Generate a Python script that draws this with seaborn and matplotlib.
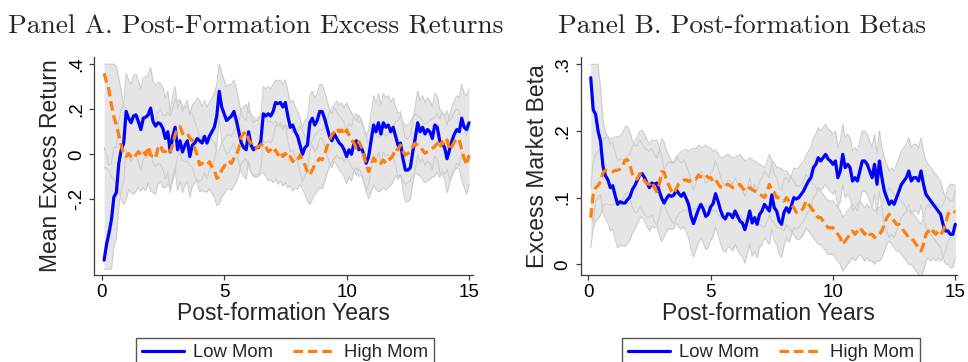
import numpy as np
import pandas as pd
import matplotlib
matplotlib.use("Agg")
import matplotlib.pyplot as plt
import seaborn as sns

# ---------------- data ----------------
years = np.round(np.arange(1, 151) * 0.1, 1)

low_ret = [
    -0.47, -0.40, -0.35, -0.29, -0.19, -0.17, -0.04, 0.02, 0.05, 0.19,
    0.16, 0.14, 0.17, 0.175, 0.145, 0.11, 0.16, 0.165, 0.175, 0.205,
    0.145, 0.125, 0.14, 0.135, 0.115, 0.07, 0.10, 0.01, 0.08, 0.12,
    0.02, 0.06, 0.01, 0.04, 0.06, -0.01, 0.04, 0.05, 0.07, 0.06,
    0.05, 0.08, 0.05, 0.08, 0.10, 0.12, 0.17, 0.28, 0.21, 0.18,
    0.15, 0.16, 0.17, 0.19, 0.15, 0.10, 0.05, 0.03, 0.02, 0.10,
    0.04, 0.02, 0.03, 0.03, 0.06, 0.18, 0.17, 0.18, 0.17, 0.19,
    0.23, 0.225, 0.23, 0.21, 0.23, 0.17, 0.12, 0.13, 0.10, 0.08,
    0.04, 0.00, 0.03, 0.04, 0.14, 0.16, 0.13, 0.15, 0.19, 0.19,
    0.16, 0.12, 0.08, 0.06, 0.09, 0.07, 0.05, 0.04, 0.02, -0.01,
    0.02, 0.00, 0.05, 0.06, 0.02, 0.03, 0.00, -0.04, -0.01, 0.06,
    0.13, 0.10, 0.14, 0.09, 0.14, 0.12, 0.13, 0.10, 0.12, 0.08,
    0.04, 0.05, -0.02, -0.07, -0.07, -0.06, 0.01, 0.07, 0.14, 0.10,
    0.12, 0.09, 0.11, 0.10, 0.07, 0.13, 0.12, 0.06, 0.05, 0.03,
    -0.02, 0.02, 0.06, 0.09, 0.11, 0.10, 0.16, 0.12, 0.11, 0.14,
]
high_ret = [
    0.36, 0.32, 0.285, 0.22, 0.167, 0.13, 0.086, 0.041, -0.003, -0.01,
    0.004, -0.01, -0.018, -0.003, 0.012, -0.003, 0.012, -0.003, 0.034, -0.003,
    -0.01, -0.018, 0.027, 0.041, 0.012, 0.012, 0.027, 0.012, 0.041, 0.086,
    0.115, 0.123, 0.093, 0.086, 0.093, 0.071, 0.063, 0.027, -0.003, -0.047,
    -0.04, -0.047, -0.047, -0.033, -0.055, -0.07, -0.107, -0.10, -0.07, -0.055,
    -0.033, -0.033, -0.04, -0.018, -0.003, 0.027, 0.078, 0.093, 0.10, 0.064,
    0.049, 0.034, 0.027, 0.034, 0.041, 0.049, 0.034, 0.012, 0.019, 0.004,
    0.019, -0.003, 0.012, -0.01, 0.004, -0.018, -0.01, -0.033, -0.018, -0.025,
    -0.003, -0.025, -0.047, -0.077, -0.092, -0.07, -0.047, -0.033, -0.018, -0.025,
    -0.003, 0.034, 0.064, 0.086, 0.10, 0.116, 0.10, 0.108, 0.086, 0.108,
    0.086, 0.064, 0.049, 0.027, 0.056, 0.034, -0.003, -0.047, -0.077, -0.047,
    -0.018, -0.033, -0.047, -0.04, -0.025, -0.04, -0.025, -0.018, -0.003, 0.027,
    0.019, 0.041, 0.012, -0.003, 0.004, 0.012, 0.034, 0.049, 0.041, 0.034,
    0.019, 0.004, 0.012, 0.019, 0.027, 0.034, 0.049, 0.027, 0.056, 0.041,
    0.064, 0.019, 0.034, 0.056, 0.071, 0.064, 0.019, -0.018, -0.047, -0.003,
]
low_ret_ci = [
    0.50, 0.40, 0.30, 0.25, 0.22, 0.20, 0.19, 0.18, 0.17, 0.17,
    0.17, 0.17, 0.18, 0.18, 0.18, 0.18, 0.18, 0.18, 0.18, 0.18,
    0.18, 0.18, 0.18, 0.18, 0.18, 0.18, 0.18, 0.18, 0.18, 0.18,
    0.18, 0.18, 0.18, 0.18, 0.18, 0.18, 0.18, 0.18, 0.18, 0.18,
    0.16, 0.16, 0.16, 0.15, 0.15, 0.15, 0.14, 0.12, 0.15, 0.15,
    0.15, 0.15, 0.14, 0.14, 0.14, 0.14, 0.13, 0.13, 0.13, 0.13,
    0.12, 0.12, 0.12, 0.12, 0.12, 0.12, 0.12, 0.12, 0.12, 0.12,
    0.10, 0.10, 0.10, 0.10, 0.10, 0.11, 0.11, 0.11, 0.11, 0.11,
    0.12, 0.12, 0.12, 0.12, 0.12, 0.12, 0.12, 0.12, 0.12, 0.12,
    0.12, 0.12, 0.12, 0.12, 0.12, 0.12, 0.12, 0.12, 0.12, 0.12,
    0.12, 0.12, 0.12, 0.12, 0.12, 0.12, 0.12, 0.12, 0.12, 0.12,
    0.13, 0.13, 0.13, 0.13, 0.13, 0.13, 0.13, 0.13, 0.13, 0.13,
    0.14, 0.14, 0.14, 0.14, 0.14, 0.14, 0.14, 0.14, 0.14, 0.14,
    0.14, 0.14, 0.14, 0.14, 0.14, 0.14, 0.14, 0.14, 0.14, 0.14,
    0.15, 0.15, 0.15, 0.15, 0.15, 0.15, 0.15, 0.15, 0.15, 0.15,
]
high_ret_ci = [
    0.42, 0.38, 0.36, 0.32, 0.28, 0.26, 0.25, 0.24, 0.22, 0.19,
    0.16, 0.16, 0.16, 0.16, 0.16, 0.16, 0.16, 0.16, 0.16, 0.16,
    0.16, 0.16, 0.16, 0.16, 0.16, 0.16, 0.16, 0.16, 0.16, 0.16,
    0.12, 0.12, 0.12, 0.12, 0.12, 0.12, 0.12, 0.12, 0.12, 0.12,
    0.12, 0.12, 0.12, 0.12, 0.12, 0.12, 0.12, 0.12, 0.12, 0.12,
    0.12, 0.12, 0.12, 0.12, 0.12, 0.12, 0.12, 0.12, 0.12, 0.12,
    0.13, 0.13, 0.13, 0.13, 0.13, 0.13, 0.13, 0.13, 0.13, 0.13,
    0.13, 0.13, 0.13, 0.13, 0.13, 0.13, 0.13, 0.13, 0.13, 0.13,
    0.13, 0.13, 0.13, 0.13, 0.13, 0.13, 0.13, 0.13, 0.13, 0.13,
    0.12, 0.12, 0.12, 0.12, 0.12, 0.12, 0.12, 0.12, 0.12, 0.12,
    0.12, 0.12, 0.12, 0.12, 0.12, 0.12, 0.12, 0.12, 0.12, 0.12,
    0.12, 0.12, 0.12, 0.12, 0.12, 0.12, 0.12, 0.12, 0.12, 0.12,
    0.13, 0.13, 0.13, 0.13, 0.13, 0.13, 0.13, 0.13, 0.13, 0.13,
    0.13, 0.13, 0.13, 0.13, 0.13, 0.13, 0.13, 0.13, 0.13, 0.13,
    0.13, 0.13, 0.13, 0.13, 0.13, 0.13, 0.13, 0.13, 0.13, 0.13,
]
ret_ci_floor, ret_ci_cap = -0.51, 0.40

low_beta = [
    0.28, 0.232, 0.225, 0.20, 0.185, 0.147, 0.133, 0.127, 0.115, 0.118,
    0.103, 0.09, 0.094, 0.092, 0.092, 0.097, 0.101, 0.112, 0.118, 0.126,
    0.134, 0.136, 0.13, 0.122, 0.115, 0.122, 0.12, 0.122, 0.11, 0.099,
    0.092, 0.099, 0.104, 0.102, 0.104, 0.112, 0.106, 0.102, 0.107, 0.099,
    0.09, 0.072, 0.061, 0.072, 0.082, 0.09, 0.083, 0.072, 0.075, 0.086,
    0.091, 0.106, 0.095, 0.082, 0.072, 0.068, 0.076, 0.075, 0.07, 0.08,
    0.072, 0.065, 0.062, 0.052, 0.065, 0.08, 0.062, 0.07, 0.06, 0.075,
    0.08, 0.09, 0.085, 0.08, 0.104, 0.085, 0.08, 0.065, 0.06, 0.078,
    0.085, 0.078, 0.088, 0.10, 0.098, 0.10, 0.105, 0.11, 0.118, 0.125,
    0.13, 0.145, 0.15, 0.16, 0.155, 0.16, 0.165, 0.158, 0.155, 0.15,
    0.155, 0.13, 0.14, 0.165, 0.145, 0.15, 0.145, 0.125, 0.13, 0.125,
    0.14, 0.155, 0.155, 0.15, 0.14, 0.13, 0.15, 0.12, 0.155, 0.13,
    0.11, 0.10, 0.09, 0.095, 0.09, 0.10, 0.11, 0.12, 0.125, 0.13,
    0.14, 0.125, 0.13, 0.13, 0.125, 0.14, 0.12, 0.105, 0.10, 0.095,
    0.09, 0.085, 0.08, 0.075, 0.06, 0.05, 0.05, 0.045, 0.045, 0.06,
]
high_beta = [
    0.07, 0.104, 0.115, 0.118, 0.124, 0.137, 0.141, 0.14, 0.139, 0.139,
    0.141, 0.141, 0.143, 0.147, 0.156, 0.157, 0.149, 0.136, 0.128, 0.128,
    0.136, 0.132, 0.125, 0.121, 0.12, 0.124, 0.115, 0.109, 0.12, 0.139,
    0.138, 0.126, 0.118, 0.11, 0.106, 0.114, 0.121, 0.124, 0.126, 0.127,
    0.124, 0.127, 0.129, 0.128, 0.134, 0.131, 0.131, 0.134, 0.13, 0.13,
    0.124, 0.127, 0.121, 0.116, 0.115, 0.118, 0.12, 0.118, 0.115, 0.115,
    0.118, 0.12, 0.115, 0.11, 0.112, 0.115, 0.112, 0.11, 0.108, 0.105,
    0.103, 0.10, 0.108, 0.12, 0.11, 0.108, 0.10, 0.10, 0.098, 0.095,
    0.10, 0.095, 0.09, 0.085, 0.078, 0.077, 0.08, 0.085, 0.095, 0.09,
    0.085, 0.08, 0.075, 0.07, 0.07, 0.065, 0.06, 0.055, 0.055, 0.055,
    0.05, 0.045, 0.04, 0.03, 0.035, 0.04, 0.045, 0.05, 0.045, 0.05,
    0.055, 0.05, 0.045, 0.05, 0.045, 0.045, 0.04, 0.045, 0.045, 0.05,
    0.06, 0.07, 0.075, 0.07, 0.065, 0.06, 0.06, 0.055, 0.05, 0.045,
    0.04, 0.04, 0.035, 0.03, 0.025, 0.02, 0.03, 0.045, 0.05, 0.045,
    0.05, 0.045, 0.05, 0.045, 0.05, 0.06, 0.075, 0.08, 0.08, 0.078,
]
low_beta_ci = [
    0.20, 0.17, 0.13, 0.10, 0.08, 0.07, 0.065, 0.065, 0.065, 0.065,
    0.065, 0.065, 0.065, 0.065, 0.065, 0.065, 0.065, 0.065, 0.065, 0.065,
    0.065, 0.065, 0.065, 0.065, 0.065, 0.065, 0.065, 0.065, 0.065, 0.065,
    0.05, 0.05, 0.05, 0.05, 0.05, 0.05, 0.05, 0.05, 0.05, 0.05,
    0.05, 0.05, 0.05, 0.05, 0.05, 0.05, 0.05, 0.05, 0.05, 0.05,
    0.05, 0.05, 0.05, 0.05, 0.05, 0.05, 0.05, 0.05, 0.05, 0.05,
    0.05, 0.05, 0.05, 0.05, 0.05, 0.05, 0.05, 0.05, 0.05, 0.05,
    0.05, 0.05, 0.05, 0.05, 0.05, 0.05, 0.05, 0.05, 0.05, 0.05,
    0.045, 0.045, 0.045, 0.045, 0.045, 0.045, 0.045, 0.045, 0.045, 0.045,
    0.045, 0.045, 0.045, 0.045, 0.045, 0.045, 0.045, 0.045, 0.045, 0.045,
    0.045, 0.045, 0.045, 0.045, 0.045, 0.045, 0.045, 0.045, 0.045, 0.045,
    0.045, 0.045, 0.045, 0.045, 0.045, 0.045, 0.045, 0.045, 0.045, 0.045,
    0.05, 0.05, 0.05, 0.05, 0.05, 0.05, 0.05, 0.05, 0.05, 0.05,
    0.05, 0.05, 0.05, 0.05, 0.05, 0.05, 0.05, 0.05, 0.05, 0.05,
    0.05, 0.05, 0.05, 0.05, 0.05, 0.05, 0.05, 0.05, 0.05, 0.05,
]
high_beta_ci = [
    0.045, 0.05, 0.05, 0.05, 0.05, 0.05, 0.05, 0.05, 0.05, 0.05,
    0.05, 0.05, 0.05, 0.05, 0.05, 0.05, 0.05, 0.05, 0.05, 0.05,
    0.05, 0.05, 0.05, 0.05, 0.05, 0.05, 0.05, 0.05, 0.05, 0.05,
    0.045, 0.045, 0.045, 0.045, 0.045, 0.045, 0.045, 0.045, 0.045, 0.045,
    0.045, 0.045, 0.045, 0.045, 0.045, 0.045, 0.045, 0.045, 0.045, 0.045,
    0.045, 0.045, 0.045, 0.045, 0.045, 0.045, 0.045, 0.045, 0.045, 0.045,
    0.045, 0.045, 0.045, 0.045, 0.045, 0.045, 0.045, 0.045, 0.045, 0.045,
    0.045, 0.045, 0.045, 0.045, 0.045, 0.045, 0.045, 0.045, 0.045, 0.045,
    0.04, 0.04, 0.04, 0.04, 0.04, 0.04, 0.04, 0.04, 0.04, 0.04,
    0.04, 0.04, 0.04, 0.04, 0.04, 0.04, 0.04, 0.04, 0.04, 0.04,
    0.04, 0.04, 0.04, 0.04, 0.04, 0.04, 0.04, 0.04, 0.04, 0.04,
    0.04, 0.04, 0.04, 0.04, 0.04, 0.04, 0.04, 0.04, 0.04, 0.04,
    0.04, 0.04, 0.04, 0.04, 0.04, 0.04, 0.04, 0.04, 0.04, 0.04,
    0.04, 0.04, 0.04, 0.04, 0.04, 0.04, 0.04, 0.04, 0.04, 0.04,
    0.04, 0.04, 0.04, 0.04, 0.04, 0.04, 0.04, 0.04, 0.04, 0.04,
]
beta_ci_floor, beta_ci_cap = -1.0, 0.30

series_labels = ["Low Mom", "High Mom"]
titles = ["Panel A. Post-Formation Excess Returns", "Panel B. Post-formation Betas"]
y_labels = ["Mean Excess Return", "Excess Market Beta"]
x_label = "Post-formation Years"
x_ticks = [0, 5, 10, 15]
ret_ticks = [-0.2, 0, 0.2, 0.4]
ret_tick_labels = ["-.2", "0", ".2", ".4"]
beta_ticks = [0, 0.1, 0.2, 0.3]
beta_tick_labels = ["0", ".1", ".2", ".3"]

# ---------------- style ----------------
sns.set_theme(style="ticks")
plt.rcParams["font.family"] = ["Liberation Sans", "DejaVu Sans"]

BLUE = "#0000ff"
ORANGE = "#ff7f0e"
FILL = "#e5e5e5"
EDGE = "#cdcdcd"
AXC = "#3c3c3c"
W, H = 968, 362

fig = plt.figure(figsize=(W / 100, H / 100), dpi=100)


def px_rect(x0, x1, ytop, ybot):
    return [x0 / W, 1 - ybot / H, (x1 - x0) / W, (ybot - ytop) / H]


axA = fig.add_axes(px_rect(94.3, 473, 57, 275))
axB = fig.add_axes(px_rect(580.7, 957, 57, 275))


def draw_panel(ax, low, high, low_ci, high_ci, floor, cap, xlim, ylim,
               yt, ytl, ylab):
    t = years
    low = np.asarray(low); high = np.asarray(high)
    bands = []
    for s, ci in ((low, np.asarray(low_ci)), (high, np.asarray(high_ci))):
        lo = np.clip(s - ci, floor, cap)
        hi = np.clip(s + ci, floor, cap)
        bands.append((lo, hi))
    for lo, hi in bands:
        ax.fill_between(t, lo, hi, color=FILL, lw=0, zorder=1)
    for lo, hi in bands:
        ax.plot(t, lo, color=EDGE, lw=0.8, zorder=1.5)
        ax.plot(t, hi, color=EDGE, lw=0.8, zorder=1.5)
    df_low = pd.DataFrame({"x": t, "y": low})
    df_high = pd.DataFrame({"x": t, "y": high})
    sns.lineplot(data=df_low, x="x", y="y", ax=ax, color=BLUE, lw=2.3,
                 zorder=3, label=series_labels[0], legend=False)
    sns.lineplot(data=df_high, x="x", y="y", ax=ax, color=ORANGE, lw=2.3,
                 zorder=4, label=series_labels[1], legend=False,
                 linestyle=(0, (3.0, 1.5)))
    ax.set_xlim(*xlim)
    ax.set_ylim(*ylim)
    ax.set_xticks(x_ticks)
    ax.set_xticklabels([str(v) for v in x_ticks])
    ax.set_yticks(yt)
    ax.set_yticklabels(ytl, rotation=90, va="center")
    for s in ("top", "right"):
        ax.spines[s].set_visible(False)
    for s in ("left", "bottom"):
        ax.spines[s].set_color(AXC)
        ax.spines[s].set_linewidth(0.9)
    ax.tick_params(axis="both", direction="out", length=3.8, width=0.9,
                   color=AXC, labelsize=13.5, labelcolor="black")
    ax.tick_params(axis="x", pad=2.5)
    ax.tick_params(axis="y", pad=3)
    ax.set_xlabel(x_label, fontsize=16.5, labelpad=1)
    ax.set_ylabel(ylab, fontsize=16.5, labelpad=4)
    ax.grid(False)
    ax.set_facecolor("white")


draw_panel(axA, low_ret, high_ret, low_ret_ci, high_ret_ci,
           ret_ci_floor, ret_ci_cap, (-0.30, 15.16), (-0.536, 0.432),
           ret_ticks, ret_tick_labels, y_labels[0])
draw_panel(axB, low_beta, high_beta, low_beta_ci, high_beta_ci,
           beta_ci_floor, beta_ci_cap, (-0.31, 15.07), (-0.016, 0.311),
           beta_ticks, beta_tick_labels, y_labels[1])

for ax, cx in ((axA, 285), (axB, 771)):
    lines = [l for l in ax.get_lines() if l.get_label() in series_labels]
    fig.legend(lines, [l.get_label() for l in lines], loc="upper center",
               bbox_to_anchor=(cx / W, 1 - 338 / H), bbox_transform=fig.transFigure,
               ncol=2, frameon=True, fancybox=False, edgecolor="#555555",
               framealpha=1, fontsize=13.3, handlelength=2.3, handletextpad=0.45,
               columnspacing=1.1, borderpad=0.35, borderaxespad=0)

fig.text(7.5 / W, 1 - 33 / H, titles[0], fontfamily="cmr10", fontsize=19.8,
         ha="left", va="baseline")
fig.text(558.5 / W, 1 - 33 / H, titles[1], fontfamily="cmr10", fontsize=19.8,
         ha="left", va="baseline")

fig.savefig("out.png", dpi=100, facecolor="white")
